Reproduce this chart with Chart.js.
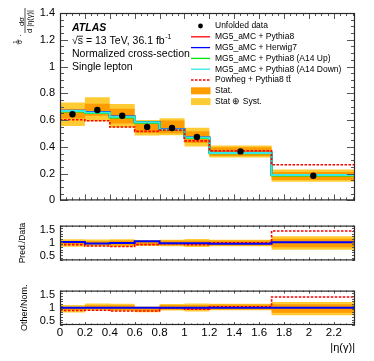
<!DOCTYPE html>
<html>
<head>
<meta charset="utf-8">
<script src="https://cdn.jsdelivr.net/npm/chart.js@4.4.0/dist/chart.umd.min.js"></script>
<style>
  body { margin: 0; background: #fff; width: 374px; height: 361px; position: relative; overflow: hidden; }
  canvas { position: absolute; left: 0; }
  #cMain { top: 0; }
  #cRatio1 { top: 214px; }
  #cRatio2 { top: 279px; }
</style>
</head>
<body>
<canvas id="cMain" width="374" height="212"></canvas>
<canvas id="cRatio1" width="374" height="58"></canvas>
<canvas id="cRatio2" width="374" height="82"></canvas>
<script>
// |eta(gamma)| bins
const binEdges = [0, 0.2, 0.4, 0.6, 0.8, 1.0, 1.2, 1.7, 2.37]

// main panel: normalized cross-section
const dataValues = [0.644, 0.675, 0.632, 0.548, 0.541, 0.474, 0.366, 0.184]
const statLow = [0.612, 0.632, 0.575, 0.505, 0.502, 0.428, 0.332, 0.153]
const statHigh = [0.680, 0.722, 0.685, 0.578, 0.596, 0.517, 0.397, 0.213]
const totLow = [0.556, 0.592, 0.545, 0.484, 0.487, 0.403, 0.320, 0.139]
const totHigh = [0.732, 0.770, 0.720, 0.600, 0.613, 0.543, 0.411, 0.230]
const mgPythia = [0.668, 0.657, 0.624, 0.584, 0.529, 0.469, 0.355, 0.189]
const mgHerwig = [0.670, 0.660, 0.626, 0.586, 0.531, 0.470, 0.356, 0.190]
const a14Up = [0.664, 0.653, 0.620, 0.580, 0.526, 0.466, 0.352, 0.186]
const a14Down = [0.668, 0.657, 0.624, 0.584, 0.529, 0.469, 0.355, 0.189]
const powheg = [0.603, 0.595, 0.548, 0.516, 0.525, 0.445, 0.371, 0.266]

// ratio panel: Pred./Data
const predDataHerwig = [1.04, 0.98, 1.00, 1.07, 0.99, 0.99, 0.97, 1.03]
const predDataPowheg = [0.94, 0.89, 0.87, 0.94, 0.97, 0.94, 1.01, 1.45]
const dataStatLow = [0.950, 0.935, 0.910, 0.925, 0.910, 0.905, 0.910, 0.840]
const dataStatHigh = [1.050, 1.065, 1.090, 1.075, 1.090, 1.095, 1.090, 1.160]
const dataTotLow = [0.860, 0.870, 0.860, 0.890, 0.880, 0.850, 0.875, 0.750]
const dataTotHigh = [1.140, 1.130, 1.140, 1.110, 1.120, 1.150, 1.125, 1.250]

// ratio panel: Other/Nom.
const otherNomHerwig = [1.00, 1.005, 1.00, 1.00, 1.005, 1.00, 1.00, 1.005]
const otherNomPowheg = [0.90, 0.91, 0.88, 0.88, 0.99, 0.95, 1.04, 1.41]
const nomStatLow = [0.915, 0.965, 0.920, 0.865, 0.930, 0.915, 0.940, 0.810]
const nomStatHigh = [1.015, 1.095, 1.100, 1.015, 1.110, 1.105, 1.120, 1.130]
const nomTotLow = [0.825, 0.900, 0.870, 0.830, 0.900, 0.860, 0.905, 0.720]
const nomTotHigh = [1.105, 1.160, 1.150, 1.050, 1.140, 1.160, 1.155, 1.220]

// axes
const xTicks = [0, 0.2, 0.4, 0.6, 0.8, 1, 1.2, 1.4, 1.6, 1.8, 2, 2.2]
const xTickLabels = ['0', '0.2', '0.4', '0.6', '0.8', '1', '1.2', '1.4', '1.6', '1.8', '2', '2.2']
const yTicksMain = [0, 0.2, 0.4, 0.6, 0.8, 1, 1.2, 1.4]
const yTickLabelsMain = ['0', '0.2', '0.4', '0.6', '0.8', '1', '1.2', '1.4']
const yTicksRatio = [0.5, 1, 1.5]
const yTickLabelsRatio = ['0.5', '1', '1.5']

const FONT = '"Liberation Sans", Arial, Helvetica, sans-serif'
const C_STAT = '#ff9c00'
const C_TOT = '#ffcb35'
const C_RED = '#ff0000'
const C_BLUE = '#0000ff'
const C_GREEN = '#00e600'
const C_CYAN = '#33e8e2'

function stepPoints(values) {
  let pts = values.map((v, i) => ({ x: binEdges[i], y: v }))
  pts.push({ x: binEdges[values.length], y: values[values.length - 1] })
  return pts
}

function centerPoints(values) {
  return values.map((v, i) => ({ x: (binEdges[i] + binEdges[i + 1]) / 2, y: v }))
}

function histLine(label, values, color, order, dash) {
  return {
    type: 'line', label, order,
    data: stepPoints(values),
    stepped: 'before',
    borderColor: color,
    borderWidth: dash ? 1.6 : 2,
    borderDash: dash || [],
    pointRadius: 0,
    fill: false
  }
}

// two stepped lines, the second filled to the first
function band(label, lo, hi, color, order) {
  return [
    { type: 'line', label: label + ' hi', order, data: stepPoints(hi), stepped: 'before',
      borderColor: 'transparent', borderWidth: 1, pointRadius: 0, fill: false },
    { type: 'line', label, order, data: stepPoints(lo), stepped: 'before',
      borderColor: 'transparent', borderWidth: 1, pointRadius: 0, fill: '-1', backgroundColor: color }
  ]
}

// ROOT style frame with inward ticks on all four sides
const rootFrame = {
  id: 'rootFrame',
  afterDatasetsDraw(chart, args, o) {
    let { ctx, chartArea: a, scales: { x, y } } = chart
    ctx.save()
    let seg = (x1, y1, x2, y2) => {
      ctx.beginPath(); ctx.moveTo(x1, y1); ctx.lineTo(x2, y2); ctx.stroke()
    }
    ctx.strokeStyle = '#555'
    ctx.lineWidth = 1
    for (let i = 0; i * 0.05 <= x.max + 1e-9; i++) {
      let px = Math.round(x.getPixelForValue(i * 0.05)) + 0.5
      let len = i % 4 === 0 ? o.xMajor : o.xMinor
      seg(px, a.bottom, px, a.bottom - len)
      seg(px, a.top, px, a.top + len)
    }
    for (let i = 0; y.min + i * o.yStep <= y.max + 1e-9; i++) {
      let v = y.min + i * o.yStep
      let py = Math.round(y.getPixelForValue(v)) + 0.5
      let isMajor = Math.abs(v / o.yMajorStep - Math.round(v / o.yMajorStep)) < 1e-6
      let len = isMajor ? o.yMajor : o.yMinor
      seg(a.left, py, a.left + len, py)
      seg(a.right, py, a.right - len, py)
    }
    ctx.strokeStyle = '#2a2a2a'
    ctx.lineWidth = 1.2
    ctx.strokeRect(a.left + 0.5, a.top + 0.5, a.right - a.left - 1, a.bottom - a.top - 1)
    ctx.restore()
  }
}

function rotText(ctx, str, x, y, font) {
  ctx.save()
  ctx.translate(x, y)
  ctx.rotate(-Math.PI / 2)
  ctx.font = font
  ctx.textAlign = 'center'
  ctx.textBaseline = 'middle'
  ctx.fillText(str, 0, 0)
  ctx.restore()
}

// labels, legend and y title of the main pad
const mainText = {
  id: 'mainText',
  afterDraw(chart) {
    let ctx = chart.ctx
    ctx.save()
    ctx.fillStyle = '#000'
    ctx.textBaseline = 'middle'
    ctx.textAlign = 'left'

    ctx.font = 'italic bold 10.5px ' + FONT
    ctx.fillText('ATLAS', 72, 28)
    ctx.font = '10.5px ' + FONT
    let x0 = 72
    ctx.fillText('\u221As = 13 TeV, 36.1 fb', x0, 41.5)
    let wRoot = ctx.measureText('\u221A').width
    let wS = ctx.measureText('s').width
    ctx.strokeStyle = '#000'
    ctx.lineWidth = 0.8
    ctx.beginPath(); ctx.moveTo(x0 + wRoot - 0.5, 36.2); ctx.lineTo(x0 + wRoot + wS, 36.2); ctx.stroke()
    let wLine = ctx.measureText('\u221As = 13 TeV, 36.1 fb').width
    ctx.font = '7px ' + FONT
    ctx.fillText('-1', x0 + wLine + 0.5, 37.5)
    ctx.font = '10.5px ' + FONT
    ctx.fillText('Normalized cross-section', 72, 54.5)
    ctx.fillText('Single lepton', 72, 67)

    // legend
    let sets = chart.data.datasets
    let entry = l => sets.find(d => d.label === l)
    let rows = [
      { kind: 'dot', ds: entry('Unfolded data') },
      { kind: 'line', ds: entry('MG5_aMC + Pythia8') },
      { kind: 'line', ds: entry('MG5_aMC + Herwig7') },
      { kind: 'line', ds: entry('MG5_aMC + Pythia8 (A14 Up)') },
      { kind: 'line', ds: entry('MG5_aMC + Pythia8 (A14 Down)') },
      { kind: 'line', ds: entry('Powheg + Pythia8 t\u0074\u0304') },
      { kind: 'box', ds: entry('Stat.') },
      { kind: 'box', ds: entry('Stat \u2295 Syst.') }
    ]
    ctx.font = '8.5px ' + FONT
    rows.forEach((r, i) => {
      let yy = 26 + i * 10.8
      if (r.kind === 'dot') {
        ctx.beginPath(); ctx.arc(200.5, yy, 2.4, 0, Math.PI * 2); ctx.fillStyle = '#000'; ctx.fill()
      } else if (r.kind === 'line') {
        ctx.strokeStyle = r.ds.borderColor
        ctx.lineWidth = r.ds.borderDash.length ? 1.6 : 1.3
        ctx.setLineDash(r.ds.borderDash)
        ctx.beginPath(); ctx.moveTo(191, yy); ctx.lineTo(210, yy); ctx.stroke()
        ctx.setLineDash([])
      } else {
        ctx.fillStyle = r.ds.backgroundColor
        ctx.fillRect(191, yy - 3.5, 19.5, 7)
      }
      ctx.fillStyle = '#000'
      ctx.fillText(r.ds.label, 215, yy)
    })

    // y title: 1/sigma . dsigma / d|eta(gamma)|
    ctx.strokeStyle = '#000'
    ctx.lineWidth = 0.7
    rotText(ctx, '1', 15.5, 42, '6px ' + FONT)
    rotText(ctx, '\u03C3', 20.5, 42, '6.5px ' + FONT)
    ctx.beginPath(); ctx.moveTo(18, 39.5); ctx.lineTo(18, 44.5); ctx.stroke()
    rotText(ctx, '\u00B7', 21, 35.5, '8px ' + FONT)
    rotText(ctx, 'd\u03C3', 21.5, 21.5, '7.5px ' + FONT)
    ctx.beginPath(); ctx.moveTo(25, 8); ctx.lineTo(25, 33); ctx.stroke()
    rotText(ctx, 'd |\u03B7(\u03B3)|', 29.5, 21.5, '7.5px ' + FONT)
    ctx.restore()
  }
}

function pointsData(label, values, order) {
  return {
    type: 'scatter', label, order,
    data: centerPoints(values),
    pointRadius: 3.2,
    pointBackgroundColor: '#000',
    pointBorderWidth: 0,
    showLine: false
  }
}

function yAxis(min, max, ticks, labels, fontSize, title) {
  return {
    type: 'linear', min, max,
    afterBuildTicks: s => { s.ticks = ticks.map(v => ({ value: v })) },
    afterFit: s => { s.width = 60 },
    ticks: {
      callback: (v, i) => labels[i],
      font: { family: FONT, size: fontSize },
      color: '#000',
      padding: 5,
      autoSkip: false
    },
    grid: { display: false, drawTicks: false },
    border: { display: false },
    title: title
  }
}

function xAxis(showLabels) {
  let ax = {
    type: 'linear', min: 0, max: 2.37,
    display: showLabels,
    afterBuildTicks: s => { s.ticks = xTicks.map(v => ({ value: v })) },
    grid: { display: false, drawTicks: false },
    border: { display: false }
  }
  if (showLabels) {
    ax.afterFit = s => { s.height = 36 }
    ax.ticks = {
      callback: (v, i) => xTickLabels[i],
      font: { family: FONT, size: 11.5 },
      color: '#000',
      padding: 1,
      maxRotation: 0,
      minRotation: 0,
      autoSkip: false
    }
    ax.title = {
      display: true, text: '|\u03B7(\u03B3)|', align: 'end',
      font: { family: FONT, size: 11 }, color: '#000',
      padding: { top: 0, bottom: 6 }
    }
  }
  return ax
}

const commonOptions = {
  responsive: false,
  animation: false,
  events: [],
  plugins: { legend: { display: false }, tooltip: { enabled: false } }
}

let mainDatasets = [
  pointsData('Unfolded data', dataValues, 0),
  histLine('MG5_aMC + Pythia8 (A14 Down)', a14Down, C_CYAN, 1),
  histLine('MG5_aMC + Pythia8 (A14 Up)', a14Up, C_GREEN, 2),
  histLine('MG5_aMC + Herwig7', mgHerwig, C_BLUE, 3),
  histLine('MG5_aMC + Pythia8', mgPythia, C_RED, 4),
  histLine('Powheg + Pythia8 t\u0074\u0304', powheg, C_RED, 0.5, [2.5, 1.5]),
  ...band('Stat.', statLow, statHigh, C_STAT, 6),
  ...band('Stat \u2295 Syst.', totLow, totHigh, C_TOT, 7)
]

new Chart(document.getElementById('cMain'), {
  type: 'line',
  data: { datasets: mainDatasets },
  options: Object.assign({}, commonOptions, {
    layout: { padding: { top: 13, bottom: 4, left: 0, right: 19 } },
    scales: {
      x: xAxis(false),
      y: yAxis(0, 1.4, yTicksMain, yTickLabelsMain, 11, { display: false })
    },
    plugins: Object.assign({}, commonOptions.plugins, {
      rootFrame: { xMajor: 6, xMinor: 3, yStep: 0.05, yMajorStep: 0.2, yMajor: 8, yMinor: 4 }
    })
  }),
  plugins: [rootFrame, mainText]
})

new Chart(document.getElementById('cRatio1'), {
  type: 'line',
  data: {
    datasets: [
      histLine('MG5_aMC + Herwig7', predDataHerwig, C_BLUE, 1),
      histLine('Powheg + Pythia8', predDataPowheg, C_RED, 2, [2.5, 1.5]),
      ...band('Stat.', dataStatLow, dataStatHigh, C_STAT, 6),
      ...band('Stat \u2295 Syst.', dataTotLow, dataTotHigh, C_TOT, 7)
    ]
  },
  options: Object.assign({}, commonOptions, {
    layout: { padding: { top: 5, bottom: 4, left: 0, right: 19 } },
    scales: {
      x: xAxis(false),
      y: yAxis(0.35, 1.65, yTicksRatio, yTickLabelsRatio, 11, {
        display: true, text: 'Pred./Data', font: { family: FONT, size: 8.5 }, color: '#000',
        padding: { top: 18, bottom: 0 }
      })
    },
    plugins: Object.assign({}, commonOptions.plugins, {
      rootFrame: { xMajor: 3, xMinor: 1.5, yStep: 0.1, yMajorStep: 0.5, yMajor: 6, yMinor: 3 }
    })
  }),
  plugins: [rootFrame]
})

new Chart(document.getElementById('cRatio2'), {
  type: 'line',
  data: {
    datasets: [
      histLine('MG5_aMC + Herwig7', otherNomHerwig, C_BLUE, 1),
      histLine('Powheg + Pythia8', otherNomPowheg, C_RED, 2, [2.5, 1.5]),
      ...band('Stat.', nomStatLow, nomStatHigh, C_STAT, 6),
      ...band('Stat \u2295 Syst.', nomTotLow, nomTotHigh, C_TOT, 7)
    ]
  },
  options: Object.assign({}, commonOptions, {
    layout: { padding: { top: 5, bottom: 0, left: 0, right: 19 } },
    scales: {
      x: xAxis(true),
      y: yAxis(0.35, 1.65, yTicksRatio, yTickLabelsRatio, 11, {
        display: true, text: 'Other/Nom.', font: { family: FONT, size: 9 }, color: '#000',
        padding: { top: 19, bottom: 0 }
      })
    },
    plugins: Object.assign({}, commonOptions.plugins, {
      rootFrame: { xMajor: 3, xMinor: 1.5, yStep: 0.1, yMajorStep: 0.5, yMajor: 6, yMinor: 3 }
    })
  }),
  plugins: [rootFrame]
})
</script>
</body>
</html>
